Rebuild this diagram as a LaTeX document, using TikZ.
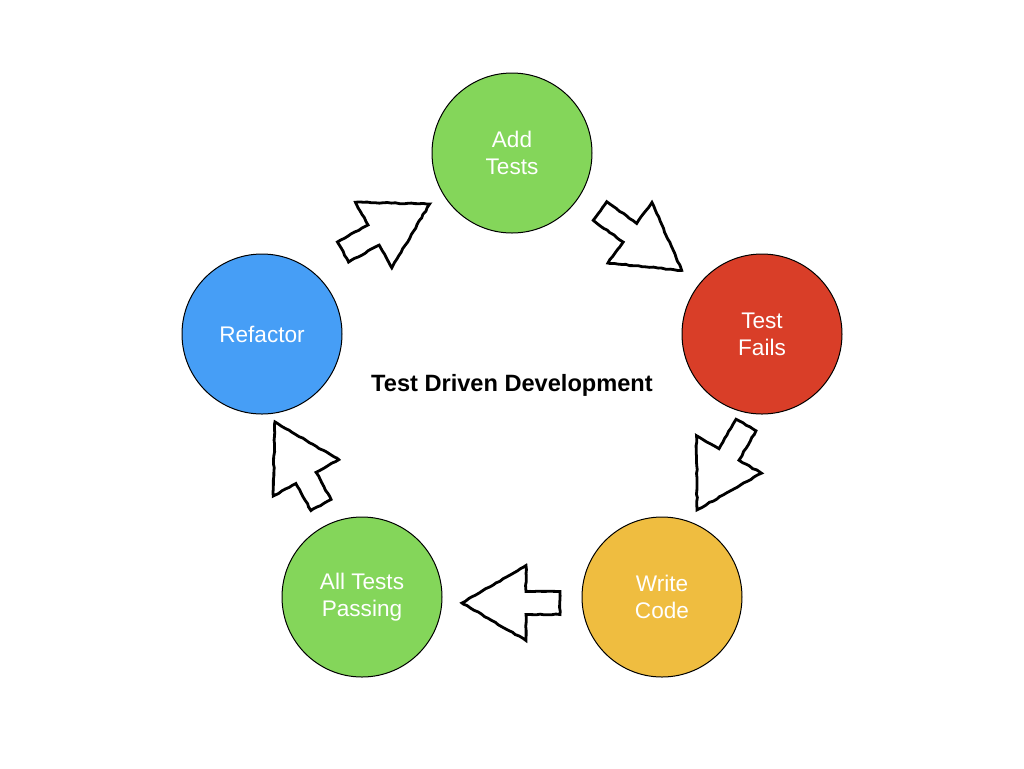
\documentclass[tikz,border=0pt]{standalone}
\usepackage{fontspec}
\setmainfont{Liberation Sans}
\usetikzlibrary{decorations.pathmorphing}
\definecolor{passgreen}{RGB}{132,214,90}
\definecolor{failred}{RGB}{217,62,40}
\definecolor{codeyellow}{RGB}{239,189,64}
\definecolor{refblue}{RGB}{70,158,246}
\begin{document}
\begin{tikzpicture}[x=0.5pt,y=-0.5pt]

    \tikzset{
      phase/.style={
        circle,
        draw,
        line width=0.5pt,
        minimum size=80pt,
        inner sep=0pt,
        align=center,
        text=white,
        font=\fontsize{11.3}{13.6}\selectfont,
      },
      sketch/.style={
        line width=1.4pt,
        line join=miter,
        decorate,
        decoration={random steps,segment length=2pt,amplitude=0.25pt},
      },
    }
    \pgfmathsetseed{7}
    \useasboundingbox (0,0) rectangle (1024,768);
    	\node[phase,fill=passgreen] (add) at (512,153) {Add\\Tests};
	\node[phase,fill=failred] (fails) at (762,334) {Test\\Fails};
	\node[phase,fill=codeyellow] (code) at (662,597) {Write\\Code};
	\node[phase,fill=passgreen] (pass) at (362,597) {All Tests\\Passing};
	\node[phase,fill=refblue] (refactor) at (262,334) {Refactor};
	\node[font=\bfseries\fontsize{11.8}{14}\selectfont] (title) at (512,385) {Test Driven Development};
	% block arrows: tail x / tail y / angle / length
	\foreach \x/\y/\a/\l in {343/252/29/99, 600/211/-36/101, 746/425/-120/98, 560/603/180/98, 321/505/119/95} {
	  \begin{scope}[shift={(\x,\y)},rotate=\a]
	    \draw[sketch] (0,-11.5) -- (\l-64,-11.5) -- (\l-64,-37.5) -- (\l,0)
	      -- (\l-64,37.5) -- (\l-64,11.5) -- (0,11.5) -- cycle;
	  \end{scope}
	}

\end{tikzpicture}
\end{document}
